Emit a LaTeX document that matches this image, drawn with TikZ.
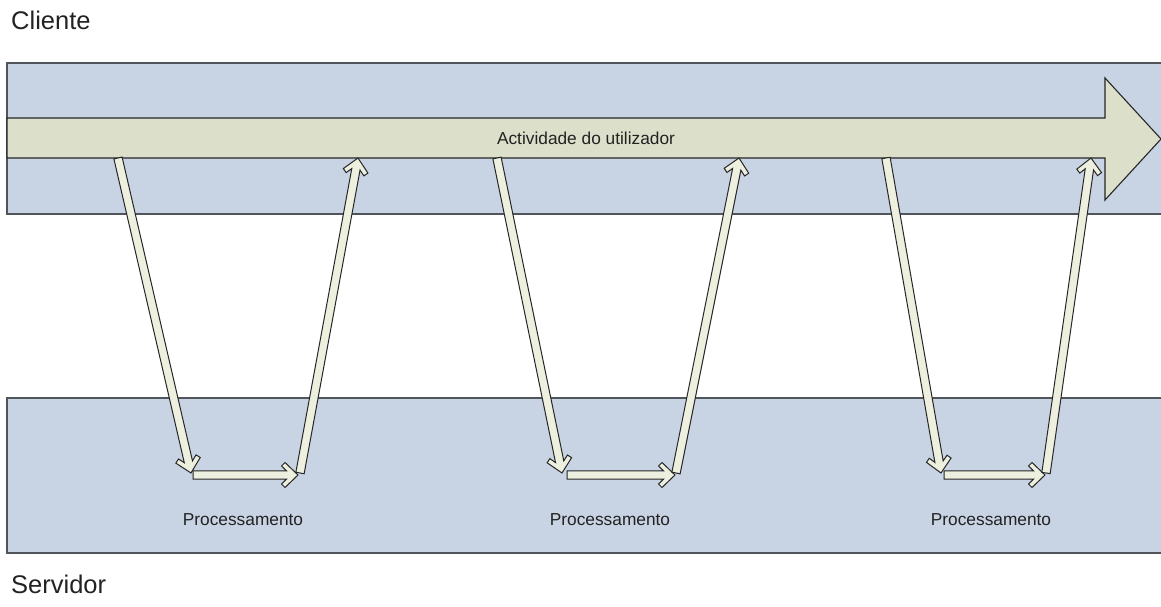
\documentclass[tikz,border=0pt]{standalone}
\usepackage{fontspec}
\setmainfont{Liberation Sans}
\usetikzlibrary{calc}

\definecolor{bandfill}{HTML}{C8D3E3}
\definecolor{bandline}{HTML}{50555C}
\definecolor{mainarrow}{HTML}{DCE0CA}
\definecolor{smallarrow}{HTML}{EDEFDF}
\definecolor{txt}{HTML}{222222}

\tikzset{
  band/.style={draw=bandline, line width=1.8pt, fill=bandfill},
  bigarrow/.style={draw=black!85, line width=1.1pt, fill=mainarrow, line join=miter},
  hollow/.style={draw=black!85, line width=1pt, fill=smallarrow, line join=miter},
  lanelabel/.style={anchor=west, text=txt, font=\fontsize{25.5}{30}\selectfont, inner sep=0pt},
  steplabel/.style={text=txt, font=\fontsize{17.3}{21}\selectfont, inner sep=0pt},
}

% block arrow with a chevron head, drawn from one named point to another
\newcommand\hollowarrow[2]{%
  \draw[hollow] let \p1=(#1), \p2=(#2),
      \n1={atan2(\y2-\y1,\x2-\x1)}, \n2={veclen(\x2-\x1,\y2-\y1)} in
    {[shift={(\p1)}, rotate=\n1]
      (0pt,4.2pt) -- ({\n2-11.5pt},4.2pt) -- ({\n2-16.5pt},9pt) --
      ({\n2-13pt},12.5pt) -- ({\n2*1pt},0pt) -- ({\n2-13pt},-12.5pt) --
      ({\n2-16.5pt},-9pt) -- ({\n2-11.5pt},-4.2pt) -- (0pt,-4.2pt) -- cycle};
}

\begin{document}
\begin{tikzpicture}[x=1pt, y=-1pt]
  \useasboundingbox (0,0) rectangle (1161,607);

  % swim lanes
  \draw[band] (7,63) rectangle (1175,214);
  \draw[band] (7,398) rectangle (1175,553);

  \node[lanelabel] (cliente) at (11,20) {Cliente};
  \node[lanelabel] (servidor) at (11,584) {Servidor};

  % user activity arrow
  \draw[bigarrow] (7,118) -- (1105,118) -- (1105,78) -- (1161,139)
    -- (1105,200) -- (1105,158) -- (7,158) -- cycle;
  \node[steplabel] (activity) at (586,138) {Actividade do utilizador};

  % request / processing / response points
  \coordinate (d1s) at (118,158);  \coordinate (d1e) at (191,473);
  \coordinate (h1s) at (193,475);  \coordinate (h1e) at (298,475);
  \coordinate (u1s) at (300,473);  \coordinate (u1e) at (358,158);

  \coordinate (d2s) at (497,158);  \coordinate (d2e) at (562,473);
  \coordinate (h2s) at (567,475);  \coordinate (h2e) at (675,475);
  \coordinate (u2s) at (676,473);  \coordinate (u2e) at (739,158);

  \coordinate (d3s) at (886,158);  \coordinate (d3e) at (941,473);
  \coordinate (h3s) at (944,475);  \coordinate (h3e) at (1045,475);
  \coordinate (u3s) at (1046,473); \coordinate (u3e) at (1091,158);

  \hollowarrow{d1s}{d1e}
  \hollowarrow{h1s}{h1e}
  \hollowarrow{u1s}{u1e}
  \hollowarrow{d2s}{d2e}
  \hollowarrow{h2s}{h2e}
  \hollowarrow{u2s}{u2e}
  \hollowarrow{d3s}{d3e}
  \hollowarrow{h3s}{h3e}
  \hollowarrow{u3s}{u3e}

  \node[steplabel] (proc1) at (243,520) {Processamento};
  \node[steplabel] (proc2) at (610,520) {Processamento};
  \node[steplabel] (proc3) at (991,520) {Processamento};
\end{tikzpicture}
\end{document}
